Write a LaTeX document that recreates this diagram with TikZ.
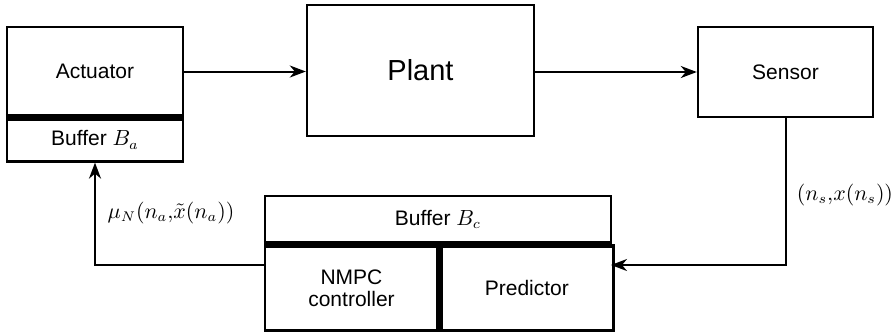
\documentclass[tikz,border=0pt]{standalone}
\usepackage{amsmath}
\usepackage{fontspec}
\setmainfont{Liberation Sans}
\usepackage{tikz}
\usetikzlibrary{arrows.meta,positioning,calc}
\tikzset{
  blk/.style={draw=black, line width=1.2pt, fill=white, align=center,
              inner sep=0pt, font=\fontsize{10.5}{12}\selectfont},
  bigblk/.style={blk, font=\fontsize{14.5}{17}\selectfont},
  bar/.style={line width=3.6pt, line cap=butt},
  arrow/.style={-{Stealth[length=8pt, width=6pt, inset=2.5pt]}, line width=1pt},
  lbl/.style={font=\fontsize{10.5}{12}\selectfont, inner sep=1pt}
}

\begin{document}
\begin{tikzpicture}[x=0.5pt, y=-0.5pt]
\useasboundingbox (0,0) rectangle (895,334);
% top row
\node[blk, minimum width=88pt, minimum height=44.5pt] (act) at (95,71.5) {Actuator};
\node[blk, minimum width=88pt, minimum height=21.5pt, below=0pt of act] (bufa) {Buffer $B_a$};
\node[bigblk, minimum width=113.5pt, minimum height=65.5pt] (plant) at (420.5,70.5) {Plant};
\node[blk, minimum width=87.5pt, minimum height=45pt] (sensor) at (785.5,72) {Sensor};
% controller block
\node[blk, minimum width=173pt, minimum height=23.5pt] (bufc) at (438,219.5) {Buffer $B_c$};
\node[blk, minimum width=86.5pt, minimum height=42.5pt, below right=0pt and 0pt of bufc.south west, anchor=north west] (nmpc) {NMPC\\[-1pt]controller};
\node[blk, minimum width=86.5pt, minimum height=42.5pt, right=0pt of nmpc] (pred) {Predictor};
\draw[bar] (act.south west) -- (act.south east);
\draw[bar] (bufc.south west) -- (bufc.south east);
\draw[bar] (nmpc.north east) -- (nmpc.south east);
% connectors
\coordinate (cin) at (611,265);
\coordinate (cout) at (265,265);
\draw[arrow] (act.east) -- (act.east -| plant.west);
\draw[arrow] (plant.east |- sensor.west) -- (sensor.west);
\draw[arrow] (sensor.south) |- (cin);
\draw[arrow] (cout) -| (bufa.south);
\node[lbl] (ulbl) at (171,213) {$\mu_N(n_a{,}\tilde{x}(n_a))$};
\node[lbl] (ylbl) at (845,195) {$(n_s{,}x(n_s))$};
\end{tikzpicture}
\end{document}
